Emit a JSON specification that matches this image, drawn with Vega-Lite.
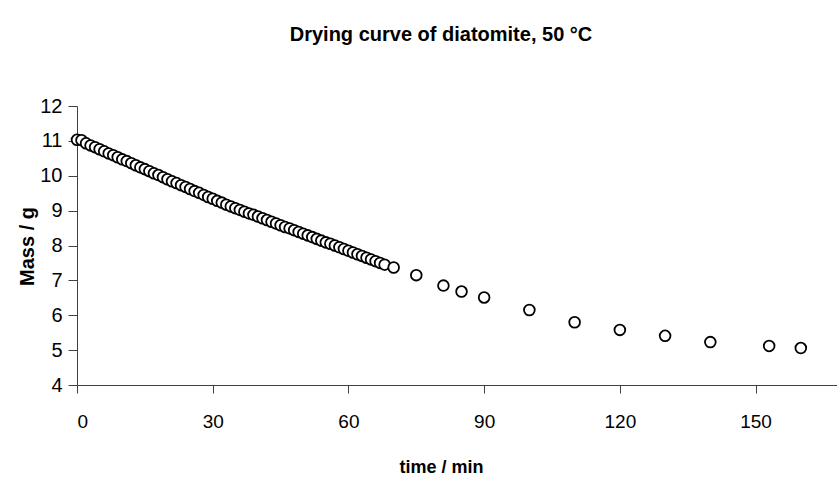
{
  "$schema": "https://vega.github.io/schema/vega-lite/v6.json",
  "autosize": {"type": "none"},
  "width": 760,
  "height": 279,
  "padding": {"left": 77, "top": 106, "right": 0, "bottom": 100},
  "background": "white",
  "config": {
    "view": {"stroke": null},
    "font": "Liberation Sans, Arial, sans-serif"
  },
  "title": {
    "text": "Drying curve of diatomite, 50 °C",
    "font": "Liberation Sans, Arial, sans-serif",
    "fontSize": 20,
    "fontWeight": "bold",
    "color": "black",
    "anchor": "middle",
    "frame": "group",
    "dx": -16,
    "offset": 51
  },
  "data": {
    "values": [
      {"t": 0, "m": 11.03}, {"t": 1, "m": 11.02}, {"t": 2, "m": 10.93}, {"t": 3, "m": 10.87},
      {"t": 4, "m": 10.82}, {"t": 5, "m": 10.76}, {"t": 6, "m": 10.70}, {"t": 7, "m": 10.64},
      {"t": 8, "m": 10.59}, {"t": 9, "m": 10.53}, {"t": 10, "m": 10.47}, {"t": 11, "m": 10.42},
      {"t": 12, "m": 10.36}, {"t": 13, "m": 10.30}, {"t": 14, "m": 10.24}, {"t": 15, "m": 10.19},
      {"t": 16, "m": 10.13}, {"t": 17, "m": 10.07}, {"t": 18, "m": 10.02}, {"t": 19, "m": 9.96},
      {"t": 20, "m": 9.90}, {"t": 21, "m": 9.84}, {"t": 22, "m": 9.79}, {"t": 23, "m": 9.73},
      {"t": 24, "m": 9.68}, {"t": 25, "m": 9.62}, {"t": 26, "m": 9.56}, {"t": 27, "m": 9.51},
      {"t": 28, "m": 9.45}, {"t": 29, "m": 9.39}, {"t": 30, "m": 9.34}, {"t": 31, "m": 9.28},
      {"t": 32, "m": 9.23}, {"t": 33, "m": 9.17}, {"t": 34, "m": 9.12}, {"t": 35, "m": 9.07},
      {"t": 36, "m": 9.02}, {"t": 37, "m": 8.97}, {"t": 38, "m": 8.92}, {"t": 39, "m": 8.88},
      {"t": 40, "m": 8.83}, {"t": 41, "m": 8.78}, {"t": 42, "m": 8.73}, {"t": 43, "m": 8.68},
      {"t": 44, "m": 8.63}, {"t": 45, "m": 8.58}, {"t": 46, "m": 8.53}, {"t": 47, "m": 8.49},
      {"t": 48, "m": 8.44}, {"t": 49, "m": 8.39}, {"t": 50, "m": 8.34}, {"t": 51, "m": 8.29},
      {"t": 52, "m": 8.24}, {"t": 53, "m": 8.19}, {"t": 54, "m": 8.14}, {"t": 55, "m": 8.09},
      {"t": 56, "m": 8.05}, {"t": 57, "m": 8.00}, {"t": 58, "m": 7.95}, {"t": 59, "m": 7.90},
      {"t": 60, "m": 7.85}, {"t": 61, "m": 7.80}, {"t": 62, "m": 7.75}, {"t": 63, "m": 7.70},
      {"t": 64, "m": 7.65}, {"t": 65, "m": 7.60}, {"t": 66, "m": 7.55}, {"t": 67, "m": 7.50},
      {"t": 68, "m": 7.45}, {"t": 70, "m": 7.37}, {"t": 75, "m": 7.15}, {"t": 81, "m": 6.85},
      {"t": 85, "m": 6.68}, {"t": 90, "m": 6.51}, {"t": 100, "m": 6.15}, {"t": 110, "m": 5.80},
      {"t": 120, "m": 5.58}, {"t": 130, "m": 5.41}, {"t": 140, "m": 5.23}, {"t": 153, "m": 5.12},
      {"t": 160, "m": 5.06}
    ]
  },
  "mark": {
    "type": "point",
    "shape": "circle",
    "filled": false,
    "fill": "white",
    "fillOpacity": 1,
    "stroke": "black",
    "strokeWidth": 1.8,
    "opacity": 1,
    "size": 115
  },
  "encoding": {
    "x": {
      "field": "t",
      "type": "quantitative",
      "scale": {"domain": [0, 168], "nice": false, "zero": false},
      "axis": {
        "title": "time / min",
        "values": [0, 30, 60, 90, 120, 150],
        "grid": false,
        "domainColor": "#404040",
        "tickColor": "#404040",
        "tickSize": 8,
        "labelPadding": 19,
        "labelFontSize": 19,
        "labelColor": "black",
        "titleFontSize": 18,
        "titleFontWeight": "bold",
        "titleColor": "black",
        "titleX": 364,
        "titleY": 82,
        "titleBaseline": "middle",
        "titleAnchor": "middle"
      }
    },
    "y": {
      "field": "m",
      "type": "quantitative",
      "scale": {"domain": [4, 12], "nice": false, "zero": false},
      "axis": {
        "title": "Mass / g",
        "values": [4, 5, 6, 7, 8, 9, 10, 11, 12],
        "grid": false,
        "domainColor": "#404040",
        "tickColor": "#404040",
        "tickSize": 9,
        "labelPadding": 6,
        "labelFontSize": 20,
        "labelColor": "black",
        "titleFontSize": 20,
        "titleFontWeight": "bold",
        "titleColor": "black",
        "titleAngle": -90,
        "titleX": -50,
        "titleY": 140,
        "titleBaseline": "middle",
        "titleAnchor": "middle"
      }
    }
  }
}
